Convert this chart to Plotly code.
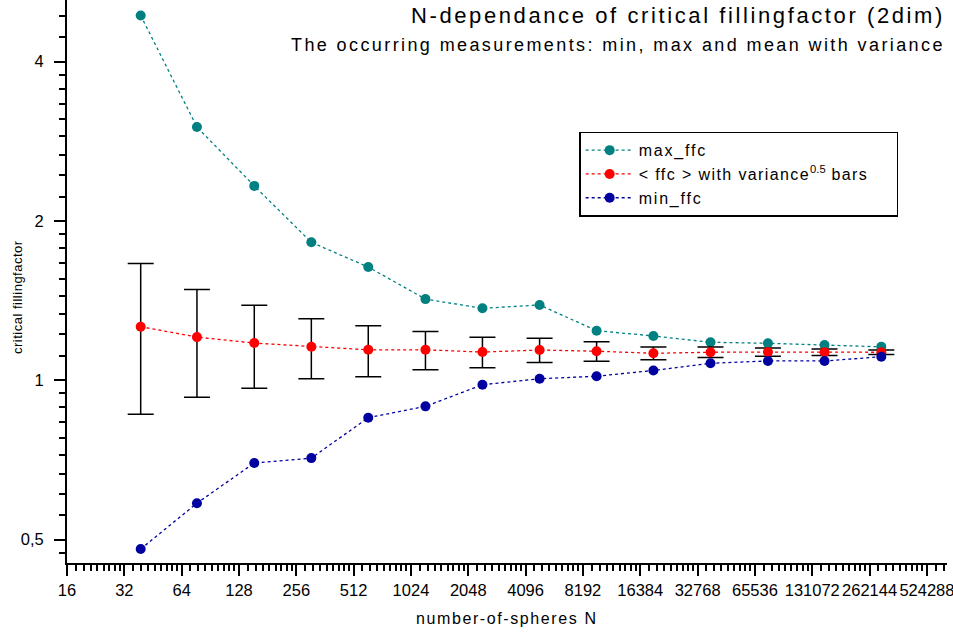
import plotly.graph_objects as go

# Number of spheres N per run
n_spheres = [39, 77, 154, 307, 611, 1220, 2430, 4850, 9660, 19200, 38300, 76700, 152000, 302000]

# Critical filling factor: maximum, mean, minimum and square root of variance
max_ffc = [4.89, 3.01, 2.33, 1.823, 1.637, 1.424, 1.368, 1.388, 1.241, 1.213, 1.180, 1.175, 1.166, 1.157]
mean_ffc = [1.263, 1.207, 1.176, 1.157, 1.142, 1.142, 1.131, 1.141, 1.135, 1.125, 1.130, 1.131, 1.130, 1.130]
sd_ffc = [0.400, 0.278, 0.210, 0.150, 0.126, 0.095, 0.075, 0.060, 0.048, 0.031, 0.026, 0.020, 0.016, 0.011]
min_ffc = [0.480, 0.586, 0.698, 0.713, 0.850, 0.893, 0.981, 1.007, 1.018, 1.044, 1.077, 1.088, 1.088, 1.108]

# Axis ticks
x_tickvals = [2 ** k for k in range(4, 20)]
x_ticktext = [str(v) for v in x_tickvals]
y_tickvals = [0.5, 1, 2, 4]
y_ticktext = ["0,5", "1", "2", "4"]

FONT = "Liberation Sans, Arial, sans-serif"


def spaced(text, px):
    """Wrap text in a span with extra letter spacing."""
    return f'<span style="letter-spacing:{px}px">{text}</span>'


# Minor ticks: each octave split into nine linear steps
x_minor = [2 ** k * (1 + j / 9) for k in range(4, 20) for j in range(1, 9)]
y_minor = [2 ** k * (1 + j / 9) for k in range(-2, 3) for j in range(1, 9)]

fig = go.Figure()

fig.add_trace(go.Scatter(
    x=n_spheres, y=max_ffc, mode="lines+markers",
    name=spaced("max_ffc", 1.8),
    line=dict(color="#008080", width=1.3, dash="dot"),
    marker=dict(color="#008080", size=10),
))
fig.add_trace(go.Scatter(
    x=n_spheres, y=mean_ffc, mode="lines+markers",
    name=(spaced("&lt; ffc &gt; with variance", 1.4) + "<sup>0.5</sup>"
          + spaced(" bars&nbsp;&nbsp;&nbsp;&nbsp;", 1.4)),
    line=dict(color="#FF0000", width=1.3, dash="dot"),
    marker=dict(color="#FF0000", size=10),
    error_y=dict(type="data", array=sd_ffc, symmetric=True,
                 color="black", thickness=1.5, width=13),
))
fig.add_trace(go.Scatter(
    x=n_spheres, y=min_ffc, mode="lines+markers",
    name=spaced("min_ffc", 1.8),
    line=dict(color="#0000A0", width=1.3, dash="dot"),
    marker=dict(color="#0000A0", size=10),
))

fig.update_layout(
    width=953, height=633,
    margin=dict(l=67, r=6, t=0, b=70),
    paper_bgcolor="white", plot_bgcolor="white",
    font=dict(family=FONT, color="black"),
    showlegend=True,
    legend=dict(
        x=0.582, y=0.766, xanchor="left", yanchor="top",
        bgcolor="white", bordercolor="black", borderwidth=1.5,
        font=dict(size=16, family=FONT), tracegroupgap=0,
        itemwidth=48,
    ),
    xaxis=dict(
        type="log", range=[1.2041, 5.825],
        tickmode="array", tickvals=x_tickvals, ticktext=x_ticktext,
        ticks="outside", ticklen=11, tickwidth=2, tickcolor="black",
        showline=True, linecolor="black", linewidth=2,
        showgrid=False, zeroline=False, ticklabeloverflow="allow",
        tickfont=dict(size=16.5, family=FONT),
        minor=dict(tickmode="array", tickvals=x_minor, ticks="outside",
                   ticklen=6, tickwidth=1.5, tickcolor="black", showgrid=False),
    ),
    yaxis=dict(
        type="log", range=[-0.3451, 0.7186],
        tickmode="array", tickvals=y_tickvals, ticktext=y_ticktext,
        ticks="outside", ticklen=11, tickwidth=2, tickcolor="black",
        showline=True, linecolor="black", linewidth=2,
        showgrid=False, zeroline=False, ticklabelstandoff=7,
        tickfont=dict(size=16.5, family=FONT),
        minor=dict(tickmode="array", tickvals=y_minor, ticks="outside",
                   ticklen=6, tickwidth=1.5, tickcolor="black", showgrid=False),
    ),
    annotations=[
        dict(text=spaced("N-dependance of critical fillingfactor (2dim)", 2.6),
             xref="paper", yref="paper", x=1.0, y=0.973,
             xanchor="right", yanchor="middle", showarrow=False,
             font=dict(size=22, family=FONT)),
        dict(text=spaced("The occurring measurements: min, max and mean with variance", 2.4),
             xref="paper", yref="paper", x=1.0, y=0.920,
             xanchor="right", yanchor="middle", showarrow=False,
             font=dict(size=18, family=FONT)),
        dict(text=spaced("number-of-spheres N", 1.6),
             xref="paper", yref="paper", x=0.5, y=-0.0977,
             xanchor="center", yanchor="middle", showarrow=False,
             font=dict(size=16, family=FONT)),
        dict(text=spaced("critical fillingfactor", 0.5),
             xref="paper", yref="paper", x=-0.0557, y=0.4725,
             xanchor="center", yanchor="middle", showarrow=False,
             textangle=-90, font=dict(size=13, family=FONT)),
    ],
)

fig.write_html("out.html")
